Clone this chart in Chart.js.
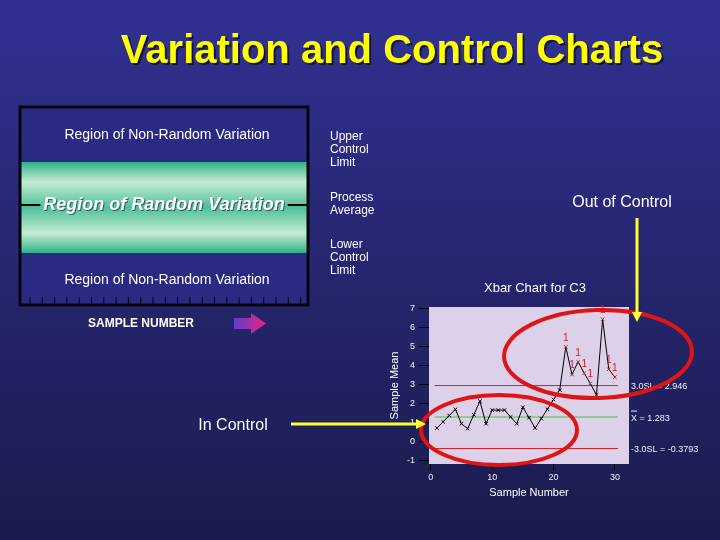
<!DOCTYPE html>
<html>
<head>
<meta charset="utf-8">
<script src="https://cdn.jsdelivr.net/npm/chart.js@4.4.1/dist/chart.umd.min.js"></script>
<style>
  body { margin: 0; background: #1c1c50; }
  #wrap { width: 720px; height: 540px; position: relative; }
</style>
</head>
<body>
<div id="wrap"><canvas id="xbar-chart"></canvas></div>
<script>
const sampleNumbers = [1, 2, 3, 4, 5, 6, 7, 8, 9, 10, 11, 12, 13, 14, 15, 16, 17, 18, 19, 20, 21, 22, 23, 24, 25, 26, 27, 28, 29, 30];
const sampleMeans = [0.70, 1.03, 1.36, 1.69, 0.93, 0.67, 1.40, 2.12, 0.93, 1.65, 1.65, 1.65, 1.29, 0.93, 1.80,
                     1.25, 0.70, 1.20, 1.70, 2.21, 2.71, 4.99, 3.53, 4.20, 3.60, 3.05, 2.45, 6.45, 3.81, 3.39];
const outOfControl = [0, 0, 0, 0, 0, 0, 0, 0, 0, 0, 0, 0, 0, 0, 0, 0, 0, 0, 0, 0, 0, 1, 1, 1, 1, 1, 0, 1, 1, 1];
const ucl = 2.946;
const centerLine = 1.283;
const lcl = -0.3793;
const limitSpan = [0.6, 30.5];
const yTicks = [-1, 0, 1, 2, 3, 4, 5, 6, 7];
const xTicks = [0, 10, 20, 30];

const FONT = 'Arial, "Liberation Sans", sans-serif';

(function () {
    const canvas = document.getElementById('xbar-chart');

    function texto(ctx, str, x, y, size, color, align, weight) {
        ctx.font = (weight || '') + ' ' + size + 'px ' + FONT;
        ctx.fillStyle = color;
        ctx.textAlign = align || 'left';
        ctx.textBaseline = 'middle';
        ctx.fillText(str, x, y);
    }

    function flecha(ctx, x1, y1, x2, y2, color) {
        const ang = Math.atan2(y2 - y1, x2 - x1);
        ctx.save();
        ctx.strokeStyle = color;
        ctx.fillStyle = color;
        ctx.lineWidth = 3;
        ctx.beginPath();
        ctx.moveTo(x1, y1);
        ctx.lineTo(x2 - 8 * Math.cos(ang), y2 - 8 * Math.sin(ang));
        ctx.stroke();
        ctx.translate(x2, y2);
        ctx.rotate(ang);
        ctx.beginPath();
        ctx.moveTo(0, 0);
        ctx.lineTo(-10, -5);
        ctx.lineTo(-10, 5);
        ctx.closePath();
        ctx.fill();
        ctx.restore();
    }

    const diapositiva = {
        id: 'diapositiva',
        beforeDraw(chart) {
            const ctx = chart.ctx;
            const area = chart.chartArea;
            ctx.save();
            // fondo
            const bg = ctx.createLinearGradient(0, 0, 0, 540);
            bg.addColorStop(0, '#313193');
            bg.addColorStop(1, '#1b1b4c');
            ctx.fillStyle = bg;
            ctx.fillRect(0, 0, 720, 540);

            // titulo
            ctx.font = 'bold 40px ' + FONT;
            ctx.textAlign = 'center';
            ctx.textBaseline = 'alphabetic';
            ctx.fillStyle = '#15153a';
            ctx.fillText('Variation and Control Charts', 394, 65);
            ctx.fillStyle = '#ffff00';
            ctx.fillText('Variation and Control Charts', 392, 63);

            // caja de la izquierda
            ctx.fillStyle = '#2a2a82';
            ctx.fillRect(20, 107, 288, 198);
            const band = ctx.createLinearGradient(0, 162, 0, 253);
            band.addColorStop(0, '#2fb08c');
            band.addColorStop(0.22, '#c6ecd2');
            band.addColorStop(0.5, '#4cc09a');
            band.addColorStop(0.78, '#c6ecd2');
            band.addColorStop(1, '#2fb08c');
            ctx.fillStyle = band;
            ctx.fillRect(20, 162, 288, 91);
            ctx.strokeStyle = '#050510';
            ctx.lineWidth = 3;
            ctx.strokeRect(20, 107, 288, 198);
            ctx.lineWidth = 1;
            for (let x = 30; x < 305; x += 12.3) {
                ctx.beginPath();
                ctx.moveTo(x, 297);
                ctx.lineTo(x, 305);
                ctx.stroke();
            }

            texto(ctx, 'Region of Non-Random Variation', 167, 135, 14, '#ffffff', 'center');
            texto(ctx, 'Region of Non-Random Variation', 167, 280, 14, '#ffffff', 'center');

            ctx.font = 'italic bold 18px ' + FONT;
            const w = ctx.measureText('Region of Random Variation').width;
            ctx.strokeStyle = '#000000';
            ctx.lineWidth = 2;
            ctx.beginPath();
            ctx.moveTo(20, 205); ctx.lineTo(164 - w / 2 - 3, 205);
            ctx.moveTo(164 + w / 2 + 3, 205); ctx.lineTo(308, 205);
            ctx.stroke();
            texto(ctx, 'Region of Random Variation', 165, 206, 18, '#3a5a58', 'center', 'italic bold');
            texto(ctx, 'Region of Random Variation', 164, 205, 18, '#ffffff', 'center', 'italic bold');

            ['Upper', 'Control', 'Limit'].forEach((t, i) => texto(ctx, t, 330, 137 + i * 13, 12, '#ffffff'));
            ['Process', 'Average'].forEach((t, i) => texto(ctx, t, 330, 198 + i * 13, 12, '#ffffff'));
            ['Lower', 'Control', 'Limit'].forEach((t, i) => texto(ctx, t, 330, 245 + i * 13, 12, '#ffffff'));

            texto(ctx, 'SAMPLE NUMBER', 141, 324, 12, '#ffffff', 'center', 'bold');
            const pg = ctx.createLinearGradient(234, 0, 266, 0);
            pg.addColorStop(0, '#5a40c8');
            pg.addColorStop(1, '#f2208a');
            ctx.fillStyle = pg;
            ctx.beginPath();
            ctx.moveTo(234, 318); ctx.lineTo(251, 318); ctx.lineTo(251, 313);
            ctx.lineTo(266, 323.5); ctx.lineTo(251, 334); ctx.lineTo(251, 329);
            ctx.lineTo(234, 329); ctx.closePath();
            ctx.fill();

            texto(ctx, 'Out of Control', 622, 203, 16, '#ffffff', 'center');
            texto(ctx, 'In Control', 233, 426, 16, '#ffffff', 'center');
            texto(ctx, 'Xbar Chart for C3', 535, 288, 13, '#ffffff', 'center');

            // fondo del area de la grafica
            ctx.fillStyle = '#ddd1ea';
            ctx.fillRect(area.left, area.top, area.right - area.left, area.bottom - area.top);
            ctx.restore();
        },
        afterDatasetsDraw(chart) {
            const ctx = chart.ctx;
            const xs = chart.scales.x;
            const ys = chart.scales.y;
            ctx.save();
            sampleNumbers.forEach((n, i) => {
                if (outOfControl[i]) {
                    texto(ctx, '1', xs.getPixelForValue(n), ys.getPixelForValue(sampleMeans[i]) - 9, 10, '#d02020', 'center');
                }
            });
            const xl = chart.chartArea.right + 2;
            texto(ctx, '3.0SL = 2.946', xl, ys.getPixelForValue(ucl) + 1, 9, '#f0f0ff');
            texto(ctx, 'X = 1.283', xl, ys.getPixelForValue(centerLine) + 1, 9, '#f0f0ff');
            ctx.strokeStyle = '#f0f0ff';
            ctx.lineWidth = 1;
            ctx.beginPath();
            ctx.moveTo(xl, ys.getPixelForValue(centerLine) - 6);
            ctx.lineTo(xl + 6, ys.getPixelForValue(centerLine) - 6);
            ctx.stroke();
            texto(ctx, '-3.0SL = -0.3793', xl, ys.getPixelForValue(lcl) + 1, 9, '#f0f0ff');
            ctx.restore();
        },
        afterDraw(chart) {
            const ctx = chart.ctx;
            ctx.save();
            ctx.strokeStyle = '#e01414';
            ctx.lineWidth = 4;
            ctx.beginPath();
            ctx.ellipse(598, 354, 94, 44, -0.03, 0, Math.PI * 2);
            ctx.stroke();
            ctx.beginPath();
            ctx.ellipse(499, 430, 78, 35, 0, 0, Math.PI * 2);
            ctx.stroke();
            flecha(ctx, 637, 218, 637, 322, '#ffff33');
            flecha(ctx, 291, 424, 426, 424, '#ffff33');
            ctx.restore();
        }
    };

    const puntos = sampleNumbers.map((n, i) => ({ x: n, y: sampleMeans[i] }));
    const colorPuntos = outOfControl.map(f => f ? '#d02020' : '#000000');
    const linea = (valor) => limitSpan.map(x => ({ x: x, y: valor }));

    new Chart(canvas, {
        type: 'line',
        data: {
            datasets: [{
                label: 'Sample Mean',
                data: puntos,
                borderColor: '#000000',
                borderWidth: 1,
                pointStyle: 'crossRot',
                pointRadius: 2.5,
                pointBorderColor: colorPuntos,
                pointBorderWidth: 1,
                tension: 0,
                order: 0
            }, {
                label: 'UCL',
                data: linea(ucl),
                borderColor: '#d42020',
                borderWidth: 1,
                pointRadius: 0,
                order: 1
            }, {
                label: 'Mean',
                data: linea(centerLine),
                borderColor: '#3cc83c',
                borderWidth: 1,
                pointRadius: 0,
                order: 1
            }, {
                label: 'LCL',
                data: linea(lcl),
                borderColor: '#d42020',
                borderWidth: 1,
                pointRadius: 0,
                order: 1
            }]
        },
        options: {
            responsive: true,
            maintainAspectRatio: false,
            animation: false,
            layout: { padding: { left: 388, right: 91, top: 307, bottom: 36 } },
            scales: {
                x: {
                    type: 'linear',
                    min: -0.3,
                    max: 32.3,
                    afterFit: (s) => { s.height = 40; },
                    afterBuildTicks: (s) => { s.ticks = xTicks.map(v => ({ value: v })); },
                    grid: { drawOnChartArea: false, color: '#000000', tickLength: 6 },
                    border: { display: false },
                    ticks: { color: '#f0f0ff', font: { size: 9, family: FONT }, padding: 2 },
                    title: { display: true, text: 'Sample Number', color: '#ffffff', font: { size: 11, family: FONT }, padding: { top: 4 } }
                },
                y: {
                    min: -1.2,
                    max: 7.1,
                    afterFit: (s) => { s.width = 41; },
                    afterBuildTicks: (s) => { s.ticks = yTicks.map(v => ({ value: v })); },
                    grid: { drawOnChartArea: false, color: '#000000', tickLength: 10 },
                    border: { display: false },
                    ticks: { color: '#f0f0ff', font: { size: 9, family: FONT }, padding: 4 },
                    title: { display: true, text: 'Sample Mean', color: '#ffffff', font: { size: 11, family: FONT }, padding: 0 }
                }
            },
            plugins: {
                legend: { display: false },
                tooltip: { enabled: false }
            }
        },
        plugins: [diapositiva]
    });
})();
</script>
</body>
</html>
